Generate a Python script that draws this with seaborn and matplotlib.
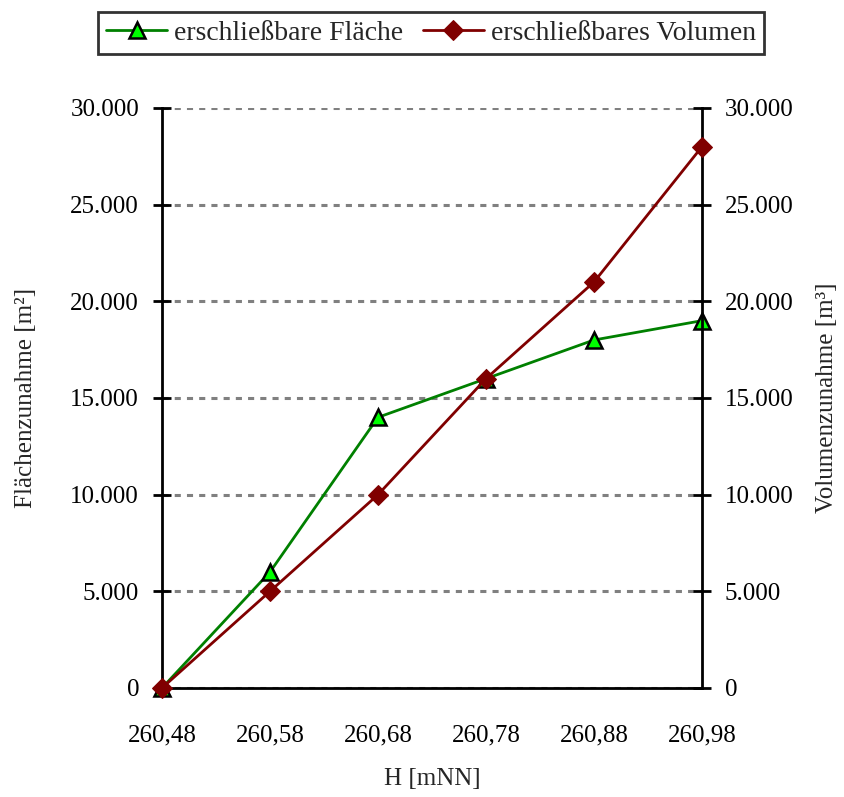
import pandas as pd
import matplotlib.pyplot as plt
import seaborn as sns
from matplotlib.ticker import FuncFormatter

# Daten
hoehen = ["260,48", "260,58", "260,68", "260,78", "260,88", "260,98"]
flaeche = [0, 6000, 14000, 16000, 18000, 19000]
volumen = [0, 5000, 10000, 16000, 21000, 28000]

df = pd.DataFrame({"pos": range(len(hoehen)), "H": hoehen,
                   "Flaeche": flaeche, "Volumen": volumen})

sns.set_style("white")
plt.rcParams['font.family'] = ['Liberation Serif', 'DejaVu Serif']
plt.rcParams['font.size'] = 18

fig = plt.figure(figsize=(8.44, 7.97), dpi=100)
ax = fig.add_axes([162/844, 1-688/797, 540/844, 580/797])
ax2 = ax.twinx()

def punkte(x, pos):
    return f"{int(x):,}".replace(",", ".")

# Gitternetz
ax.set_ylim(0, 30000)
ax2.set_ylim(0, 30000)
ax.set_xlim(0, 5)
ax.set_yticks(range(0, 30001, 5000))
ax2.set_yticks(range(0, 30001, 5000))
ax.yaxis.set_major_formatter(FuncFormatter(punkte))
ax2.yaxis.set_major_formatter(FuncFormatter(punkte))
ax.grid(axis="y", color="#808080", linestyle=(0, (2, 2)), linewidth=2.2)
ax.set_axisbelow(True)

sns.lineplot(data=df, x="pos", y="Flaeche", ax=ax, color="#008000",
             marker="^", markersize=12, markerfacecolor="#00ff00",
             markeredgecolor="black", markeredgewidth=1.8, linewidth=2,
             label="erschließbare Fläche", legend=False, clip_on=False, zorder=5)
sns.lineplot(data=df, x="pos", y="Volumen", ax=ax2, color="#800000",
             marker="D", markersize=10, markerfacecolor="#800000",
             markeredgecolor="#800000", linewidth=2,
             label="erschließbares Volumen", legend=False, clip_on=False, zorder=5)

ax.set_xticks(df["pos"])
ax.set_xticklabels(hoehen)
ax.set_xlabel("H [mNN]", labelpad=15)
ax.set_ylabel("Flächenzunahme [m²]", labelpad=24)
ax2.set_ylabel("Volumenzunahme [m³]", labelpad=16)

for a in (ax, ax2):
    a.spines["top"].set_visible(False)
    for s in ("left", "right", "bottom"):
        a.spines[s].set_linewidth(2)
        a.spines[s].set_color("black")
    a.tick_params(direction="inout", length=13, width=2, colors="black",
                  labelsize=18, pad=10)
ax.tick_params(axis="x", pad=20)
ax.spines["right"].set_visible(False)
ax2.spines["left"].set_visible(False)
ax2.spines["bottom"].set_visible(False)

h1, lab1 = ax.get_legend_handles_labels()
h2, lab2 = ax2.get_legend_handles_labels()
leg = fig.legend(h1 + h2, lab1 + lab2, loc="center", ncol=2,
                 bbox_to_anchor=(431/844, 1-33/797), frameon=True,
                 fancybox=False, edgecolor="black", fontsize=20,
                 handlelength=2.2, handletextpad=0.25, columnspacing=0.7,
                 borderpad=0.3, borderaxespad=0)
leg.get_frame().set_linewidth(2)

fig.savefig("out.png", dpi=100)
